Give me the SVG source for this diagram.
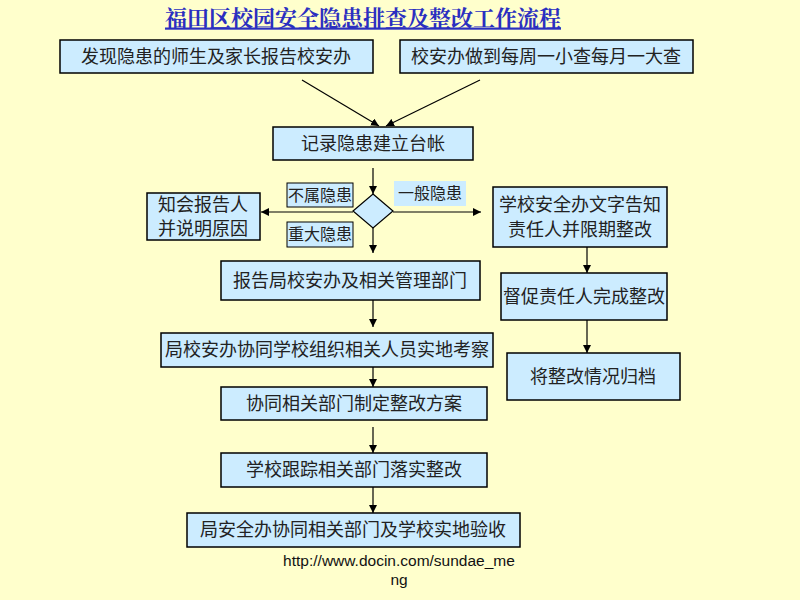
<svg xmlns="http://www.w3.org/2000/svg" width="800" height="600" viewBox="0 0 800 600">
<defs>
<marker id="ah" viewBox="0 0 10 10" refX="10" refY="5" markerWidth="8" markerHeight="8" markerUnits="userSpaceOnUse" orient="auto">
<path d="M0,0 L10,5 L0,10 z" fill="#000"/>
</marker>
<style>
.box{fill:#CCECFF;stroke:#000;stroke-width:1.5}
.t{font-family:"Noto Sans CJK SC","Liberation Sans",sans-serif;font-size:18px;fill:#222;text-anchor:middle}
.lb{font-family:"Noto Sans CJK SC","Liberation Sans",sans-serif;font-size:16px;fill:#222;text-anchor:middle}
.c{stroke:#000;stroke-width:1.2;fill:none;marker-end:url(#ah)}
</style>
</defs>
<rect width="800" height="600" fill="#FFFFCC"/>
<text x="363" y="25.5" font-family="'Noto Serif CJK SC','Noto Sans CJK SC',serif" font-size="22" font-weight="bold" fill="#2B2FC0" text-anchor="middle" text-decoration="underline">福田区校园安全隐患排查及整改工作流程</text>

<g id="connectors">
<line class="c" x1="302" y1="80" x2="379" y2="126"/>
<line class="c" x1="480" y1="80" x2="386" y2="126"/>
<line class="c" x1="373" y1="168" x2="373" y2="194"/>
<line class="c" x1="353" y1="212" x2="261" y2="212"/>
<line class="c" x1="393" y1="212" x2="481" y2="212"/>
<line class="c" x1="373" y1="228" x2="373" y2="253"/>
<line class="c" x1="373" y1="300" x2="373" y2="327"/>
<line class="c" x1="373" y1="367" x2="373" y2="387"/>
<line class="c" x1="373" y1="427" x2="373" y2="453"/>
<line class="c" x1="373" y1="487" x2="373" y2="513"/>
<line class="c" x1="587" y1="247" x2="587" y2="273"/>
<line class="c" x1="587" y1="320" x2="587" y2="353"/>
</g>

<g id="n1"><rect class="box" x="60" y="40" width="313" height="33"/><text class="t" x="216" y="63">发现隐患的师生及家长报告校安办</text></g>
<g id="n2"><rect class="box" x="400" y="40" width="293" height="33"/><text class="t" x="546" y="63">校安办做到每周一小查每月一大查</text></g>
<g id="n3"><rect class="box" x="273" y="127" width="200" height="33"/><text class="t" x="373" y="150">记录隐患建立台帐</text></g>
<g id="decision"><polygon points="373,194 393,211 373,228 353,211" fill="#CCECFF" stroke="#000" stroke-width="1.2"/></g>
<g id="lbl1"><rect x="287" y="183" width="66" height="24" fill="#CCECFF" stroke="#000" stroke-width="1"/><text class="lb" x="320" y="201">不属隐患</text></g>
<g id="lbl2"><rect x="287" y="222" width="66" height="25" fill="#CCECFF" stroke="#000" stroke-width="1"/><text class="lb" x="320" y="240">重大隐患</text></g>
<g id="lbl3"><rect x="394" y="181" width="72" height="25" fill="#CCECFF"/><text class="lb" x="430" y="199">一般隐患</text></g>
<g id="n4"><rect class="box" x="147" y="193" width="113" height="47"/><text class="t" x="203" y="211">知会报告人</text><text class="t" x="203" y="235">并说明原因</text></g>
<g id="n5"><rect class="box" x="493" y="187" width="174" height="60"/><text class="t" x="580" y="211">学校安全办文字告知</text><text class="t" x="580" y="236">责任人并限期整改</text></g>
<g id="n6"><rect class="box" x="501" y="273" width="166" height="47"/><text class="t" x="584" y="303">督促责任人完成整改</text></g>
<g id="n7"><rect class="box" x="507" y="353" width="173" height="47"/><text class="t" x="593" y="383">将整改情况归档</text></g>
<g id="n8"><rect class="box" x="221" y="261" width="259" height="39"/><text class="t" x="350" y="287">报告局校安办及相关管理部门</text></g>
<g id="n9"><rect class="box" x="161" y="333" width="332" height="34"/><text class="t" x="327" y="356">局校安办协同学校组织相关人员实地考察</text></g>
<g id="n10"><rect class="box" x="221" y="387" width="266" height="33"/><text class="t" x="354" y="410">协同相关部门制定整改方案</text></g>
<g id="n11"><rect class="box" x="221" y="453" width="266" height="34"/><text class="t" x="354" y="476">学校跟踪相关部门落实整改</text></g>
<g id="n12"><rect class="box" x="187" y="513" width="333" height="34"/><text class="t" x="353" y="536">局安全办协同相关部门及学校实地验收</text></g>

<text x="399" y="566" font-family="'Liberation Sans',Arial,sans-serif" font-size="15.5" fill="#111" text-anchor="middle">http://www.docin.com/sundae_me</text>
<text x="399" y="585" font-family="'Liberation Sans',Arial,sans-serif" font-size="15.5" fill="#111" text-anchor="middle">ng</text>
</svg>
